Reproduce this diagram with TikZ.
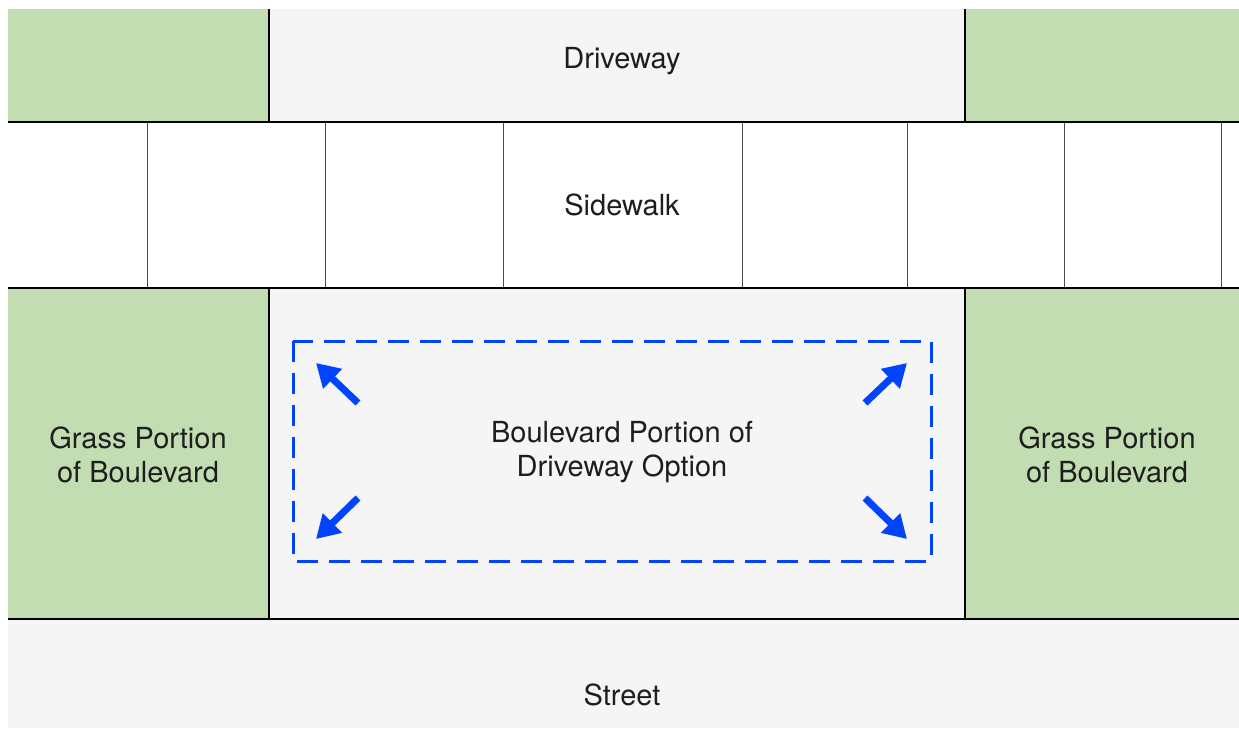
\documentclass[tikz,border=0pt]{standalone}
\usepackage{fontspec}
\setmainfont{TeX Gyre Heros}
\usetikzlibrary{arrows.meta}

\definecolor{grass}{RGB}{193,221,177}
\definecolor{paving}{RGB}{245,245,245}
\definecolor{planblue}{RGB}{0,68,255}
\definecolor{inkgray}{RGB}{30,30,30}

\tikzset{
  grassfill/.style={fill=grass},
  pavefill/.style={fill=paving},
  edgeline/.style={line width=2pt, black},
  partline/.style={line width=2.6pt, black},
  slabline/.style={line width=1pt, black!70},
  zonelabel/.style={font=\fontsize{29}{34}\selectfont, text=inkgray, align=center, inner sep=0pt},
  optionbox/.style={draw=planblue, line width=3pt, dash pattern=on 21pt off 11pt},
  growarrow/.style={draw=planblue, line width=7pt,
    -{Triangle[length=23pt,width=26pt]}}
}

\begin{document}
\begin{tikzpicture}[x=1pt,y=-1pt]
  % canvas
  \fill[white] (0,0) rectangle (1239,728);
  \useasboundingbox (0,0) rectangle (1239,728);

  % top row: grass, driveway, grass
  \fill[grassfill] (8,9) rectangle (269,122);
  \fill[pavefill] (269,9) rectangle (965,122);
  \fill[grassfill] (965,9) rectangle (1239,122);

  % boulevard row
  \fill[grassfill] (8,288) rectangle (269,619);
  \fill[pavefill] (269,288) rectangle (965,619);
  \fill[grassfill] (965,288) rectangle (1239,619);

  % street
  \fill[pavefill] (8,619) rectangle (1239,728);

  % sidewalk slab joints
  \foreach \xx in {147,325,503,742,907,1064,1221}
    \draw[slabline] (\xx,122) -- (\xx,288);

  % partitions between grass and paving
  \foreach \xx in {269,965} {
    \draw[partline] (\xx,9) -- (\xx,122);
    \draw[partline] (\xx,288) -- (\xx,619);
  }

  % long edges
  \foreach \yy in {122,288,619}
    \draw[edgeline] (8,\yy) -- (1239,\yy);

  % labels
  \node[zonelabel] (driveway) at (622,61) {Driveway};
  \node[zonelabel] (sidewalk) at (622,205) {Sidewalk};
  \node[zonelabel] (grassL) at (138,455) {Grass Portion\\of Boulevard};
  \node[zonelabel] (grassR) at (1107,455) {Grass Portion\\of Boulevard};
  \node[zonelabel] (option) at (622,452) {Boulevard Portion of\\Driveway Option};
  \node[zonelabel] (street) at (622,695) {Street};

  % driveway option outline
  \draw[optionbox] (293,341) rectangle (931,561);

  % expansion arrows
  \coordinate (nwTail) at (358,403); \coordinate (nwTip) at (316,363);
  \coordinate (neTail) at (865,403); \coordinate (neTip) at (907,363);
  \coordinate (swTail) at (358,498); \coordinate (swTip) at (316,539);
  \coordinate (seTail) at (865,498); \coordinate (seTip) at (907,539);
  \draw[growarrow] (nwTail) -- (nwTip);
  \draw[growarrow] (neTail) -- (neTip);
  \draw[growarrow] (swTail) -- (swTip);
  \draw[growarrow] (seTail) -- (seTip);
\end{tikzpicture}
\end{document}
